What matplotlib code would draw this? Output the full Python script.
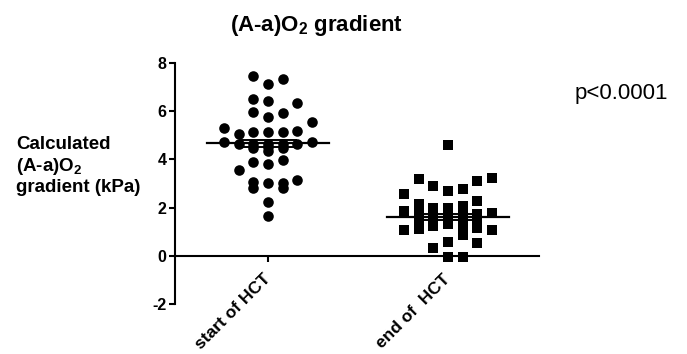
import matplotlib
matplotlib.use("Agg")
import matplotlib.pyplot as plt

plt.rcParams["font.family"] = "Liberation Sans"
plt.rcParams["mathtext.fontset"] = "custom"
plt.rcParams["mathtext.rm"] = "Liberation Sans:bold"
plt.rcParams["mathtext.default"] = "rm"
plt.rcParams["axes.unicode_minus"] = False

# data
groups = ["start of HCT", "end of  HCT"]

# start of HCT, listed column by column of the dot stack
start_values = [
    5.30, 4.74,
    5.07, 4.62, 3.55,
    7.48, 6.51, 5.96, 5.13, 4.62, 4.48, 3.88, 3.08, 2.81,
    7.12, 6.42, 5.78, 5.13, 4.62, 4.50, 4.34, 3.81, 3.04, 2.23, 1.66,
    7.33, 5.92, 5.13, 4.62, 4.48, 3.96, 3.04, 2.81,
    6.36, 5.18, 4.62, 3.15,
    5.57, 4.74,
]
start_slots = [-3] * 2 + [-2] * 3 + [-1] * 9 + [0] * 11 + [1] * 8 + [2] * 4 + [3] * 2

# end of HCT
end_values = [
    2.56, 1.84, 1.08,
    3.18, 2.16, 1.72, 1.45, 1.10,
    2.88, 1.98, 1.70, 1.45, 1.25, 0.32,
    4.58, 2.67, 1.98, 1.72, 1.50, 1.30, 0.59, -0.03,
    2.77, 2.07, 1.72, 1.48, 1.25, 0.85, -0.03,
    3.12, 2.28, 1.72, 1.45, 1.15, 0.53,
    3.22, 1.77, 1.08,
]
end_slots = [-3] * 3 + [-2] * 5 + [-1] * 6 + [0] * 8 + [1] * 7 + [2] * 6 + [3] * 3

means = [4.66, 1.60]
sems = [0.15, 0.12]
y_ticks = [-2, 0, 2, 4, 6, 8]
p_text = "p<0.0001"

slot_width = 0.0817

fig = plt.figure(figsize=(6.87, 3.54), dpi=100)
ax = fig.add_axes([175 / 687, 1 - 304 / 354, 364 / 687, 241 / 354])

series = [(start_values, start_slots, "o", 58), (end_values, end_slots, "s", 48)]
for idx, (values, slots, marker, size) in enumerate(series):
    xs = [idx + s * slot_width for s in slots]
    ax.scatter(xs, values, s=size, marker=marker, color="black",
               linewidths=0, zorder=3, clip_on=False)

for idx, (m, e) in enumerate(zip(means, sems)):
    ax.plot([idx - 0.34, idx + 0.34], [m, m], color="black", lw=1.6, zorder=4)
    ax.errorbar([idx], [m], yerr=[e], fmt="none", ecolor="black",
                elinewidth=1.4, capsize=21, capthick=1.4, zorder=4)

for side in ["top", "right"]:
    ax.spines[side].set_visible(False)
# moving the spine resets the ticks, so do it before styling them
ax.spines["bottom"].set_position(("data", 0))
ax.spines["left"].set_linewidth(1.5)
ax.spines["bottom"].set_linewidth(1.5)

ax.set_xlim(-0.517, 1.506)
ax.set_ylim(-2, 8)
ax.set_yticks(y_ticks)
ax.set_yticklabels([str(t) for t in y_ticks], fontsize=11.5, fontweight="bold")
ax.set_xticks([0, 1])
ax.set_xticklabels(groups, rotation=45, ha="right", va="center",
                   rotation_mode="anchor", fontsize=12.5, fontweight="bold")
ax.tick_params(axis="y", direction="out", length=4, width=1.5, pad=2)
ax.tick_params(axis="x", direction="out", length=4, width=1.5, pad=11)

fig.text(317 / 687, 1 - 25 / 354, "(A-a)O$_2$ gradient", ha="center",
         va="center", fontsize=16, fontweight="bold")
fig.text(16 / 687, 1 - 166 / 354, "Calculated\n(A-a)O$_2$\ngradient (kPa)",
         ha="left", va="center", fontsize=13.5, fontweight="bold",
         linespacing=1.2)
fig.text(575 / 687, 1 - 93 / 354, p_text, ha="left", va="center", fontsize=16)

fig.savefig("out.png", dpi=100)
